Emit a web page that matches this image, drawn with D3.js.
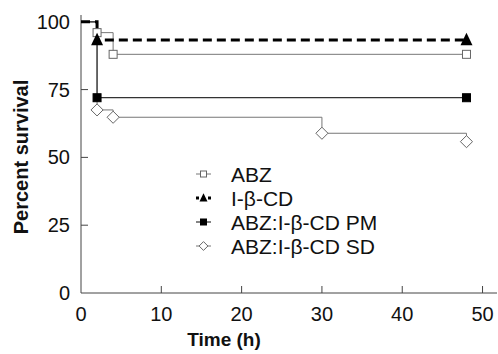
<!DOCTYPE html>
<html>
<head>
<meta charset="utf-8">
<script src="https://cdn.jsdelivr.net/npm/d3@7"></script>
<style>
  body { margin: 0; background: #fff; }
  text { font-family: "Liberation Sans", Arial, sans-serif; fill: #111; }
</style>
</head>
<body>
<svg id="chart"></svg>
<script>
const xTicks = [0, 10, 20, 30, 40, 50];
const yTicks = [0, 25, 50, 75, 100];

const abzTime = [0, 2, 4, 48];
const abzSurv = [100, 96, 88, 88];
const icdTime = [0, 2, 48];
const icdSurv = [100, 93.3, 93.3];
const pmTime = [0, 2, 48];
const pmSurv = [100, 72, 72];
const sdTime = [0, 2, 4, 30, 48];
const sdSurv = [100, 67.5, 64.8, 58.9, 55.8];

const seriesNames = ["ABZ", "I-\u03b2-CD", "ABZ:I-\u03b2-CD PM", "ABZ:I-\u03b2-CD SD"];

const width = 498, height = 354;
const svg = d3.select("#chart").attr("width", width).attr("height", height);

const x = d3.scaleLinear().domain([0, 51.8]).range([81, 497]);
const y = d3.scaleLinear().domain([0, 102.5]).range([293, 15]);

// axes
const axisColor = "#444";
svg.append("line").attr("x1", x(0)).attr("x2", x(51.8))
  .attr("y1", y(0)).attr("y2", y(0)).attr("stroke", axisColor);
svg.append("line").attr("x1", x(0)).attr("x2", x(0))
  .attr("y1", y(0)).attr("y2", y(102.5)).attr("stroke", axisColor);

svg.selectAll(".xt").data(xTicks.slice(1)).enter().append("line")
  .attr("x1", d => x(d)).attr("x2", d => x(d))
  .attr("y1", y(0)).attr("y2", y(0) - 7).attr("stroke", axisColor);
svg.selectAll(".yt").data(yTicks.slice(1)).enter().append("line")
  .attr("x1", x(0)).attr("x2", x(0) + 7)
  .attr("y1", d => y(d)).attr("y2", d => y(d)).attr("stroke", axisColor);

svg.selectAll(".xl").data(xTicks).enter().append("text")
  .attr("x", d => x(d)).attr("y", 321)
  .attr("text-anchor", "middle").attr("font-size", 20).text(d => d);
svg.selectAll(".yl").data(yTicks).enter().append("text")
  .attr("x", 70).attr("y", d => y(d) + 7)
  .attr("text-anchor", "end").attr("font-size", 20).text(d => d);

svg.append("text").attr("x", 224).attr("y", 346)
  .attr("text-anchor", "middle").attr("font-size", 19).attr("font-weight", "bold")
  .text("Time (h)");
svg.append("text").attr("transform", "translate(28,157) rotate(-90)")
  .attr("text-anchor", "middle").attr("font-size", 20).attr("font-weight", "bold")
  .text("Percent survival");

// series
const series = [
  { name: seriesNames[0], t: abzTime, s: abzSurv, color: "#777", w: 1, dash: null, mark: "osq" },
  { name: seriesNames[1], t: icdTime, s: icdSurv, color: "#000", w: 3, dash: "9,5", mark: "tri" },
  { name: seriesNames[2], t: pmTime, s: pmSurv, color: "#333", w: 1.2, dash: null, mark: "fsq" },
  { name: seriesNames[3], t: sdTime, s: sdSurv, color: "#777", w: 1, dash: null, mark: "dia" }
];

const line = d3.line().x(d => x(d[0])).y(d => y(d[1])).curve(d3.curveStepAfter);

function drawMarker(g, type, cx, cy, size) {
  if (type === "osq" || type === "fsq") {
    g.append("rect").attr("x", cx - size / 2).attr("y", cy - size / 2)
      .attr("width", size).attr("height", size)
      .attr("fill", type === "fsq" ? "#000" : "#fff")
      .attr("stroke", type === "fsq" ? "#000" : "#666").attr("stroke-width", 1);
  } else if (type === "tri") {
    g.append("path")
      .attr("d", `M${cx},${cy - size * 0.6}L${cx + size / 2},${cy + size * 0.45}L${cx - size / 2},${cy + size * 0.45}Z`)
      .attr("fill", "#000");
  } else if (type === "dia") {
    const r = size * 0.55;
    g.append("path")
      .attr("d", `M${cx},${cy - r}L${cx + r},${cy}L${cx},${cy + r}L${cx - r},${cy}Z`)
      .attr("fill", "#fff").attr("stroke", "#666").attr("stroke-width", 1);
  }
}

// draw lines first (thin ones), then dashed, then markers
const order = [3, 0, 2, 1];
order.forEach(i => {
  const sr = series[i];
  const pts = sr.t.map((t, k) => [t, sr.s[k]]);
  svg.append("path").attr("d", line(pts)).attr("fill", "none")
    .attr("stroke", sr.color).attr("stroke-width", sr.w)
    .attr("stroke-dasharray", sr.dash);
});
order.forEach(i => {
  const sr = series[i];
  const g = svg.append("g");
  sr.t.forEach((t, k) => {
    if (k === 0) return;
    const sz = sr.mark === "tri" ? 12 : sr.mark === "dia" ? 11 : 8;
    drawMarker(g, sr.mark, x(t), y(sr.s[k]), sz);
  });
});

// legend
const leg = svg.append("g");
series.forEach((sr, i) => {
  const ly = 174 + i * 24;
  leg.append("line").attr("x1", 196).attr("x2", 211).attr("y1", ly).attr("y2", ly)
    .attr("stroke", sr.color).attr("stroke-width", sr.mark === "tri" ? 3 : sr.w)
    .attr("stroke-dasharray", sr.mark === "tri" ? "3,3" : null);
  const sz = sr.mark === "tri" ? 8 : sr.mark === "dia" ? 8 : 6;
  drawMarker(leg, sr.mark, 203.5, ly, sz);
  leg.append("text").attr("x", 231).attr("y", ly + 7.5).attr("font-size", 21).text(sr.name);
});
</script>
</body>
</html>
